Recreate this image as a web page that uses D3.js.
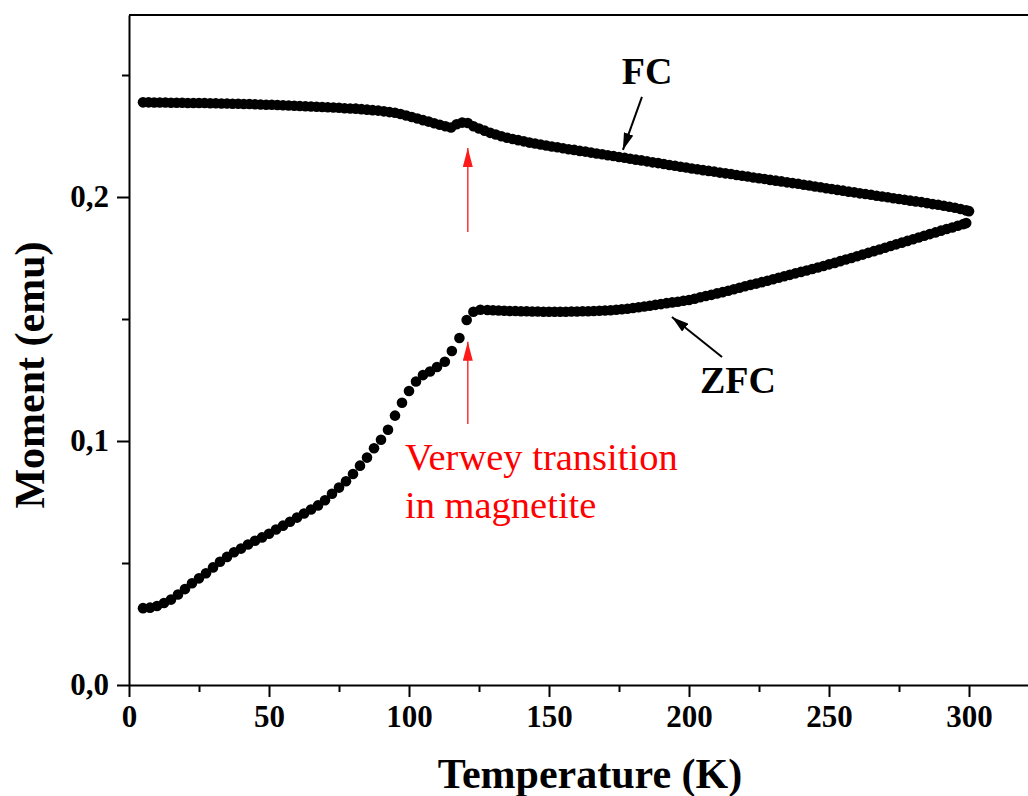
<!DOCTYPE html>
<html><head><meta charset="utf-8">
<script src="https://cdn.jsdelivr.net/npm/d3@7"></script>
<style>body{margin:0;background:#fff}svg{display:block}</style>
</head><body>
<svg id="chart" width="1028" height="796"></svg>
<script>
// ZFC curve: temperature (K) and moment (emu)
const zfcT = [5,7.5,10,12.5,15,17.5,20,22.5,25,27.5,30,32.5,35,37.5,40,42.5,45,47.5,50,52.5,55,57.5,60,62.5,65,67.5,70,72.5,75,77.5,80,82.5,85,87.5,90,92.5,95,97.5,100,102.5,105,107.5,110,112.8,115.3,118,120.6,123,125.5,
  128,130,132,134,136,138,140,142,144,146,148,150,152,154,156,158,160,162,164,166,168,170,172,174,176,178,180,182,184,186,188,190,192,194,196,198,200,
  202,204,206,208,210,212,214,216,218,220,222,224,226,228,230,232,234,236,238,240,242,244,246,248,250,252,254,256,258,260,262,264,266,268,270,272,274,276,278,280,282,284,286,288,290,292,294,296,298,299];
const zfcM = [0.0315,0.0317,0.0324,0.0336,0.0350,0.0371,0.0393,0.0417,0.0437,0.0458,0.0482,0.0505,0.0525,0.0544,0.0559,0.0576,0.0591,0.0605,0.0620,0.0637,0.0653,0.0669,0.0686,0.0703,0.0719,0.0736,0.0757,0.0784,0.0809,0.0835,0.0865,0.0899,0.0932,0.0970,0.1005,0.1046,0.1104,0.1157,0.1205,0.1244,0.1270,0.1285,0.1303,0.1325,0.1369,0.1422,0.1496,0.1530,0.1538,
  0.1537,0.1536,0.1535,0.1534,0.1533,0.1533,0.1532,0.1532,0.1531,0.1531,0.1530,0.1530,0.1530,0.1530,0.1530,0.1531,0.1531,0.1532,0.1532,0.1533,0.1534,0.1535,0.1536,0.1538,0.1540,0.1542,0.1545,0.1548,0.1551,0.1554,0.1558,0.1561,0.1565,0.1568,0.1571,0.1575,0.1578,
  0.1583,0.1589,0.1594,0.1599,0.1605,0.1610,0.1616,0.1622,0.1628,0.1634,0.1640,0.1645,0.1651,0.1657,0.1663,0.1669,0.1675,0.1681,0.1687,0.1693,0.1699,0.1705,0.1711,0.1717,0.1724,0.1730,0.1737,0.1744,0.1750,0.1757,0.1764,0.1771,0.1778,0.1785,0.1792,0.1799,0.1806,0.1813,0.1820,0.1827,0.1834,0.1841,0.1848,0.1855,0.1862,0.1869,0.1875,0.1882,0.1889,0.1893];
// FC curve
const fcT = [5,7,9,11,13,15,17,19,21,23,25,27,29,31,33,35,37,39,41,43,45,47,49,51,53,55,57,59,61,63,65,67,69,71,73,75,77,79,81,83,85,87,89,91,93,95,97,99,101,103,105,107,109,111,113,115,117,119,121,123,125,127,129,131,133,135,137,139,141,143,145,147,149,
  151,153,155,157,159,161,163,165,167,169,171,173,175,177,179,181,183,185,187,189,191,193,195,197,199,201,203,205,207,209,211,213,215,217,219,221,223,225,227,229,231,233,235,237,239,241,243,245,247,249,
  251,253,255,257,259,261,263,265,267,269,271,273,275,277,279,281,283,285,287,289,291,293,295,297,299,300];
const fcM = [0.2388,0.2388,0.2387,0.2387,0.2387,0.2386,0.2386,0.2386,0.2385,0.2385,0.2385,0.2385,0.2384,0.2384,0.2383,0.2383,0.2382,0.2382,0.2381,0.2381,0.2380,0.2379,0.2378,0.2378,0.2377,0.2376,0.2375,0.2374,0.2373,0.2372,0.2371,0.2370,0.2369,0.2368,0.2367,0.2366,0.2364,0.2363,0.2362,0.2360,0.2358,0.2356,0.2354,0.2351,0.2348,0.2345,0.2340,0.2334,0.2328,0.2322,0.2315,0.2309,0.2302,0.2296,0.2290,0.2285,0.2298,0.2305,0.2303,0.2290,0.2281,0.2272,0.2263,0.2256,0.2249,0.2243,0.2238,0.2233,0.2228,0.2223,0.2219,0.2215,0.2211,
  0.2207,0.2204,0.2200,0.2196,0.2193,0.2189,0.2186,0.2182,0.2178,0.2175,0.2171,0.2168,0.2164,0.2161,0.2157,0.2153,0.2150,0.2146,0.2142,0.2139,0.2135,0.2131,0.2128,0.2124,0.2121,0.2117,0.2114,0.2110,0.2107,0.2104,0.2100,0.2097,0.2094,0.2090,0.2087,0.2084,0.2080,0.2077,0.2074,0.2070,0.2067,0.2064,0.2060,0.2057,0.2054,0.2050,0.2047,0.2043,0.2040,0.2036,
  0.2033,0.2029,0.2026,0.2022,0.2019,0.2015,0.2012,0.2009,0.2005,0.2002,0.1999,0.1995,0.1992,0.1989,0.1985,0.1982,0.1979,0.1975,0.1971,0.1968,0.1964,0.1960,0.1956,0.1951,0.1945,0.1942];
// ticks
const xMajor = [0,50,100,150,200,250,300];
const xMinor = [25,75,125,175,225,275];
const yMajor = [0,0.1,0.2];
const yMajorLabels = ["0,0","0,1","0,2"];
const yMinor = [0.05,0.15,0.25];
// annotations (data coordinates)
const fcArrow = {from:[183.2,0.2410], to:[176.4,0.2193]};
const zfcArrow = {from:[211.8,0.1344], to:[193.9,0.1508]};
const redArrows = [{from:[121,0.1857], to:[121,0.2201]},{from:[121,0.1070], to:[121,0.1407]}];

const svg = d3.select("#chart");
const pL = 129, pR = 1028, pT = 15, pB = 685;
const x = d3.scaleLinear().domain([0, (pR-pL)/2.8]).range([pL, pR]);
const y = d3.scaleLinear().domain([0, (pB-pT)/2440]).range([pB, pT]);
const serif = "'Liberation Serif','Times New Roman',Times,serif";

// frame top
svg.append("line").attr("x1",pL).attr("x2",pR).attr("y1",pT).attr("y2",pT)
  .attr("stroke","#000").attr("stroke-width",2);

function styleAxis(g){
  g.select(".domain").attr("stroke","#000").attr("stroke-width",2);
  g.selectAll(".tick line").attr("stroke","#000").attr("stroke-width",2);
}
// x axis
const gx = svg.append("g").attr("transform",`translate(0,${pB})`)
  .call(d3.axisBottom(x).tickValues(xMajor).tickSize(12).tickSizeOuter(0).tickPadding(8).tickFormat(d3.format("d")));
styleAxis(gx);
gx.selectAll(".tick text").attr("font-family",serif).attr("font-weight","bold").attr("font-size",31).attr("fill","#000");
svg.append("g").attr("transform",`translate(0,${pB})`)
  .call(d3.axisBottom(x).tickValues(xMinor).tickSize(7).tickSizeOuter(0).tickFormat(""))
  .call(g=>{g.select(".domain").remove();g.selectAll(".tick line").attr("stroke","#000").attr("stroke-width",2);});
// y axis
const gy = svg.append("g").attr("transform",`translate(${pL},0)`)
  .call(d3.axisLeft(y).tickValues(yMajor).tickSize(12).tickSizeOuter(0).tickPadding(8).tickFormat((d,i)=>yMajorLabels[i]));
styleAxis(gy);
gy.selectAll(".tick text").attr("font-family",serif).attr("font-weight","bold").attr("font-size",31).attr("fill","#000");
svg.append("g").attr("transform",`translate(${pL},0)`)
  .call(d3.axisLeft(y).tickValues(yMinor).tickSize(7).tickSizeOuter(0).tickFormat(""))
  .call(g=>{g.select(".domain").remove();g.selectAll(".tick line").attr("stroke","#000").attr("stroke-width",2);});

// titles
svg.append("text").attr("x",590).attr("y",788).attr("text-anchor","middle")
  .attr("font-family",serif).attr("font-weight","bold").attr("font-size",42).text("Temperature (K)");
svg.append("text").attr("transform","translate(44,375) rotate(-90)").attr("text-anchor","middle")
  .attr("font-family",serif).attr("font-weight","bold").attr("font-size",42).text("Moment (emu)");

// data
const zfc = zfcT.map((t,i)=>[t,zfcM[i]]);
const fc = fcT.map((t,i)=>[t,fcM[i]]);
svg.append("g").selectAll("circle").data(zfc.concat(fc)).join("circle")
  .attr("cx",d=>x(d[0])).attr("cy",d=>y(d[1])).attr("r",5.3).attr("fill","#000");

// arrows
const defs = svg.append("defs");
function marker(id,color,w,h){
  defs.append("marker").attr("id",id).attr("viewBox",`0 0 ${h} ${w}`).attr("refX",h).attr("refY",w/2)
    .attr("markerWidth",h).attr("markerHeight",w).attr("markerUnits","userSpaceOnUse").attr("orient","auto")
    .append("path").attr("d",`M0,0 L${h},${w/2} L0,${w} Z`).attr("fill",color);
}
marker("ab","#000",10,17);
marker("ar","#ff1a1a",10,19);
function arrow(a,color,id,sw){
  svg.append("line").attr("x1",x(a.from[0])).attr("y1",y(a.from[1])).attr("x2",x(a.to[0])).attr("y2",y(a.to[1]))
    .attr("stroke",color).attr("stroke-width",sw).attr("marker-end",`url(#${id})`);
}
arrow(fcArrow,"#000","ab",2);
arrow(zfcArrow,"#000","ab",2);
redArrows.forEach(a=>arrow(a,"#ff3333","ar",1.5));

// labels
svg.append("text").attr("x",647).attr("y",84).attr("text-anchor","middle")
  .attr("font-family",serif).attr("font-weight","bold").attr("font-size",38).text("FC");
svg.append("text").attr("x",738).attr("y",393).attr("text-anchor","middle")
  .attr("font-family",serif).attr("font-weight","bold").attr("font-size",38).text("ZFC");
svg.append("text").attr("x",405).attr("y",470).attr("font-family",serif).attr("font-size",38.5).attr("fill","#ff0000").text("Verwey transition");
svg.append("text").attr("x",405).attr("y",518).attr("font-family",serif).attr("font-size",38.5).attr("fill","#ff0000").text("in magnetite");
</script>
</body></html>
